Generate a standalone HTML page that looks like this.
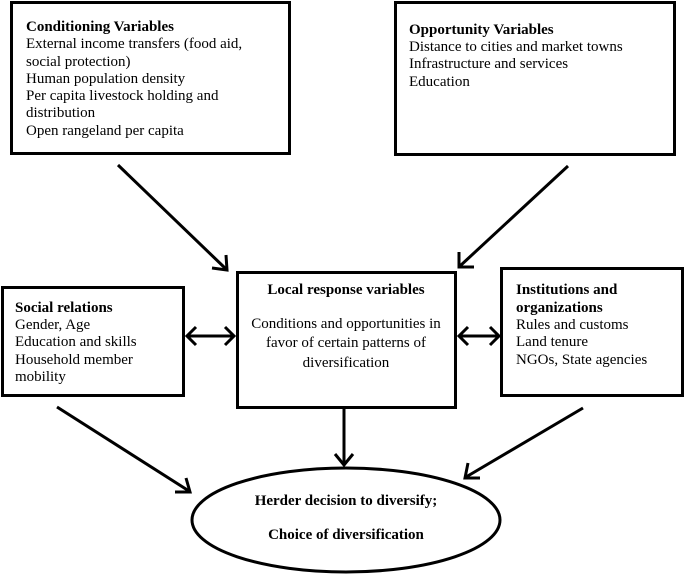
<!DOCTYPE html>
<html><head><meta charset="utf-8"><style>
html,body{margin:0;padding:0;background:#fff;}
svg{display:block;}
text{font-family:"Liberation Serif",serif;font-size:15px;fill:#000;}
.b{font-weight:bold;}
</style></head><body>
<svg width="685" height="575" viewBox="0 0 685 575" xmlns="http://www.w3.org/2000/svg">
<g fill="none" stroke="#000" stroke-width="3">
<rect x="11.5" y="2.5" width="278" height="151"/>
<rect x="395.5" y="2.5" width="279" height="152"/>
<rect x="237.5" y="272.5" width="218" height="135"/>
<rect x="2.5" y="287.5" width="181" height="108"/>
<rect x="501.5" y="268.5" width="181" height="127"/>
<ellipse cx="346" cy="520" rx="154" ry="52"/>
<line x1="118" y1="165" x2="226" y2="269"/>
<polyline points="212,268 227,270 226,255"/>
<line x1="568" y1="166" x2="460" y2="266"/>
<polyline points="459,252 459,267 474,267"/>
<line x1="187" y1="336" x2="234" y2="336"/>
<polyline points="196,327 187,336 196,345"/>
<polyline points="225,327 234,336 225,345"/>
<line x1="459" y1="336" x2="499" y2="336"/>
<polyline points="468,327 459,336 468,345"/>
<polyline points="490,327 499,336 490,345"/>
<line x1="344" y1="409" x2="344" y2="465"/>
<polyline points="335,454 344,465 353,454"/>
<line x1="57" y1="407" x2="189" y2="491"/>
<polyline points="175,492 190,492 186,478"/>
<line x1="583" y1="408" x2="466" y2="477"/>
<polyline points="468,463 465,478 480,478"/>
</g>
<text x="26" y="31" class="b">Conditioning Variables</text>
<text x="26" y="48">External income transfers (food aid,</text>
<text x="26" y="66">social protection)</text>
<text x="26" y="83">Human population density</text>
<text x="26" y="100">Per capita livestock holding and</text>
<text x="26" y="117">distribution</text>
<text x="26" y="135">Open rangeland per capita</text>

<text x="409" y="34" class="b">Opportunity Variables</text>
<text x="409" y="51">Distance to cities and market towns</text>
<text x="409" y="68">Infrastructure and services</text>
<text x="409" y="86">Education</text>

<text x="346" y="294" class="b" text-anchor="middle">Local response variables</text>
<text x="346" y="328" text-anchor="middle">Conditions and opportunities in</text>
<text x="346" y="347" text-anchor="middle">favor of certain patterns of</text>
<text x="346" y="367" text-anchor="middle">diversification</text>

<text x="15" y="312" class="b">Social relations</text>
<text x="15" y="329">Gender, Age</text>
<text x="15" y="346">Education and skills</text>
<text x="15" y="364">Household member</text>
<text x="15" y="381">mobility</text>

<text x="516" y="294" class="b">Institutions and</text>
<text x="516" y="312" class="b">organizations</text>
<text x="516" y="329">Rules and customs</text>
<text x="516" y="346">Land tenure</text>
<text x="516" y="364">NGOs, State agencies</text>

<text x="346" y="505" class="b" text-anchor="middle">Herder decision to diversify;</text>
<text x="346" y="539" class="b" text-anchor="middle">Choice of diversification</text>
</svg>
</body></html>
